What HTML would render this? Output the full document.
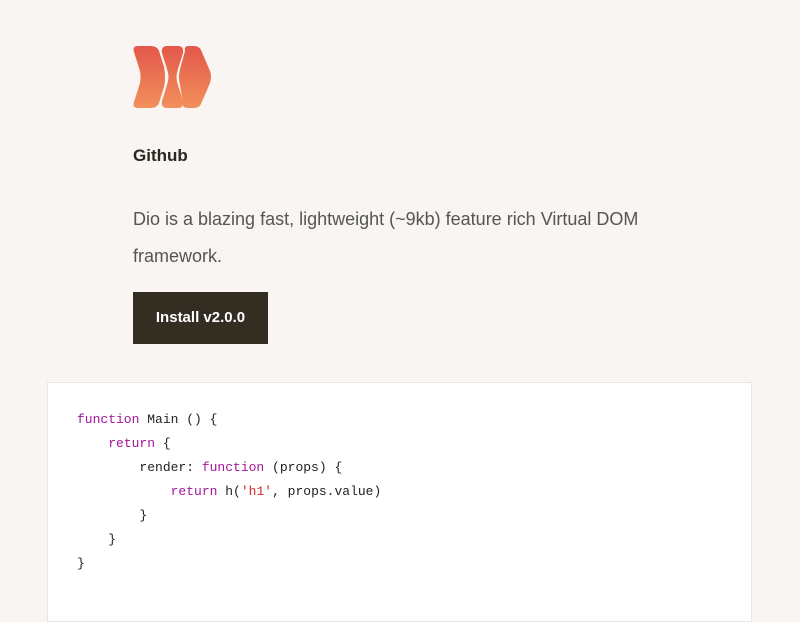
<!DOCTYPE html>
<html><head><meta charset="utf-8"><style>
html,body{margin:0;padding:0;width:800px;height:600px;overflow:hidden;background:#f8f5f2;font-family:"Liberation Sans",sans-serif}
.logo{position:absolute;left:133px;top:45px}
h1{position:absolute;left:133px;top:146px;margin:0;font-size:17px;font-weight:bold;color:#2a2620}
p{position:absolute;left:133px;top:201px;margin:0;width:560px;font-size:18px;line-height:37px;color:#555}
.btn{position:absolute;left:133px;top:292px;width:135px;height:52px;background:#342d22;color:#fff;font-weight:bold;font-size:15px;line-height:52px;text-align:center}
.code{position:absolute;left:47px;top:382px;width:705px;height:240px;background:#fff;border:1px solid #ebe6e2;box-sizing:border-box}
pre{position:absolute;left:29px;top:25px;margin:0;font-family:"Liberation Mono",monospace;font-size:13px;line-height:24px;color:#222}
.k{color:#a3169a}.s{color:#d3262a}
</style></head><body>
<svg class="logo" width="80" height="64" viewBox="0 0 80 64">
<defs><linearGradient id="g" x1="0" y1="0" x2="0" y2="1"><stop offset="0" stop-color="#e3574b"/><stop offset="1" stop-color="#f2905b"/></linearGradient></defs>
<path fill="url(#g)" d="M5 1 H18 Q24 1 26 6 L31 22 Q33 32 31 42 L26 58 Q24 63 18 63 H5 Q-1 63 1 57 L7 38 Q8 32 7 26 L1 7 Q-1 1 5 1Z"/>
<path fill="url(#g)" d="M34 1 H45 Q51 1 50 8 L45 24 Q42 32 45 40 L50 56 Q51 63 45 63 H34 Q28 63 29 56 L34 40 Q37 32 34 24 L29 8 Q28 1 34 1Z"/>
<path fill="url(#g)" d="M55 1 H61 Q66 1 68 5 L77 26 Q79 32 77 38 L68 59 Q66 63 61 63 H55 Q49 63 50 58 L47 40 Q45 32 47 24 L52 6 Q51 1 55 1Z"/>
</svg>
<h1>Github</h1>
<p>Dio is a blazing fast, lightweight (~9kb) feature rich Virtual DOM framework.</p>
<div class="btn">Install v2.0.0</div>
<div class="code"><pre><span class="k">function</span> Main () {
    <span class="k">return</span> {
        render: <span class="k">function</span> (props) {
            <span class="k">return</span> h(<span class="s">'h1'</span>, props.value)
        }
    }
}</pre></div>
</body></html>
